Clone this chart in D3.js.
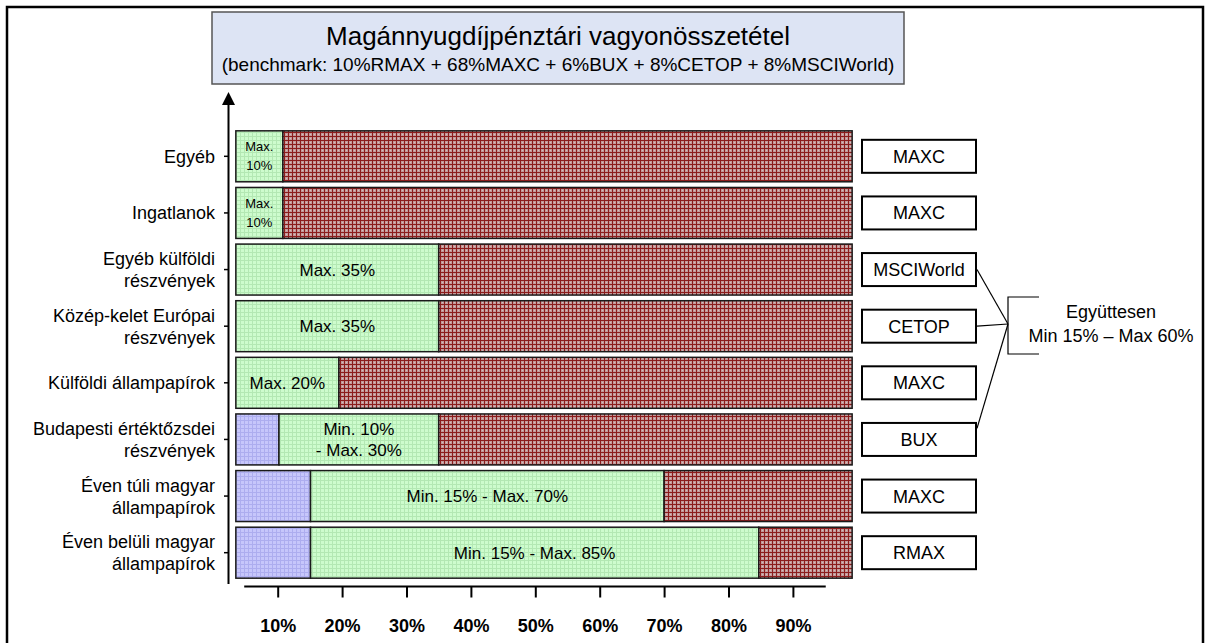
<!DOCTYPE html>
<html>
<head>
<meta charset="utf-8">
<script src="https://cdn.jsdelivr.net/npm/d3@7"></script>
<style>
  body { margin: 0; background: #fff; }
  text { font-family: "Liberation Sans", Arial, sans-serif; fill: #000; }
</style>
</head>
<body>
<div id="chart"></div>
<script>
// rows, top to bottom
var categories = [
  ["Egyéb"],
  ["Ingatlanok"],
  ["Egyéb külföldi", "részvények"],
  ["Közép-kelet Európai", "részvények"],
  ["Külföldi állampapírok"],
  ["Budapesti értéktőzsdei", "részvények"],
  ["Éven túli magyar", "állampapírok"],
  ["Éven belüli magyar", "állampapírok"]
];
// segment limits (percent)
var barStart = [3.5, 3.5, 3.5, 3.5, 3.5, 3.5, 3.5, 3.5];
var minLimit = [null, null, null, null, null, 10.2, 15.1, 15.1];
var maxLimit = [10.8, 10.8, 35, 35, 19.5, 35, 70, 84.7];
var barEnd = [99.2, 99.2, 99.2, 99.2, 99.2, 99.2, 99.2, 99.2];
var segLabels = [
  ["Max.", "10%"],
  ["Max.", "10%"],
  ["Max. 35%"],
  ["Max. 35%"],
  ["Max. 20%"],
  ["Min. 10%", "- Max. 30%"],
  ["Min. 15% - Max. 70%"],
  ["Min. 15% - Max. 85%"]
];
var benchmarks = ["MAXC", "MAXC", "MSCIWorld", "CETOP", "MAXC", "BUX", "MAXC", "RMAX"];
var jointRows = [2, 3, 5];
var jointLabel = ["Együttesen", "Min 15% \u2013 Max 60%"];
var xTicks = [10, 20, 30, 40, 50, 60, 70, 80, 90];
var title = "Magánnyugdíjpénztári vagyonösszetétel";
var subtitle = "(benchmark: 10%RMAX + 68%MAXC + 6%BUX + 8%CETOP + 8%MSCIWorld)";

var w = 1207, h = 643;

var svg = d3.select("#chart").append("svg")
  .attr("width", w)
  .attr("height", h);

var defs = svg.append("defs");

function gridPattern(id, bg, line, dot) {
  var p = defs.append("pattern")
    .attr("id", id)
    .attr("patternUnits", "userSpaceOnUse")
    .attr("width", 4).attr("height", 4);
  p.append("rect").attr("width", 4).attr("height", 4).attr("fill", bg);
  p.append("rect").attr("x", 0).attr("y", 0).attr("width", 4).attr("height", 1).attr("fill", line);
  p.append("rect").attr("x", 0).attr("y", 0).attr("width", 1).attr("height", 4).attr("fill", line);
  if (dot) p.append("rect").attr("x", 2).attr("y", 2).attr("width", 1).attr("height", 1).attr("fill", dot);
}
gridPattern("pGreen", "#cdfccd", "#b3e8b3");
gridPattern("pBlue", "#c6c6fb", "#adadef");
gridPattern("pRed", "#c29a9a", "#8c1c1c", "#dcbcbc");

// outer frame
svg.append("rect")
  .attr("x", 7).attr("y", 7)
  .attr("width", 1196).attr("height", 660)
  .attr("fill", "none")
  .attr("stroke", "#000")
  .attr("stroke-width", 2.5);

// title box
svg.append("rect")
  .attr("x", 212).attr("y", 12)
  .attr("width", 692).attr("height", 72)
  .attr("fill", "#dde4f4")
  .attr("stroke", "#555")
  .attr("stroke-width", 1.5);
svg.append("text")
  .attr("x", 558).attr("y", 45)
  .attr("text-anchor", "middle")
  .style("font-size", "26px")
  .text(title);
svg.append("text")
  .attr("x", 558).attr("y", 71)
  .attr("text-anchor", "middle")
  .style("font-size", "19px")
  .text(subtitle);

var x = d3.scaleLinear()
  .domain([0, 100])
  .range([213.3, 857.3]);

var y = d3.scaleBand()
  .domain(d3.range(categories.length))
  .range([128, 581])
  .paddingInner(0.1)
  .paddingOuter(0.05);

// segments
var segs = [];
categories.forEach(function(c, i) {
  var a = barStart[i];
  if (minLimit[i] != null) {
    segs.push({row: i, x0: a, x1: minLimit[i], fill: "url(#pBlue)"});
    a = minLimit[i];
  }
  segs.push({row: i, x0: a, x1: maxLimit[i], fill: "url(#pGreen)", label: true});
  segs.push({row: i, x0: maxLimit[i], x1: barEnd[i], fill: "url(#pRed)"});
});

svg.selectAll("rect.seg")
  .data(segs)
  .enter()
  .append("rect")
  .attr("class", "seg")
  .attr("x", function(d) { return x(d.x0); })
  .attr("y", function(d) { return y(d.row); })
  .attr("width", function(d) { return x(d.x1) - x(d.x0); })
  .attr("height", y.bandwidth())
  .attr("fill", function(d) { return d.fill; })
  .attr("stroke", "#1a1a1a")
  .attr("stroke-width", 1.5);

// labels inside the green part
segs.filter(function(d) { return d.label; }).forEach(function(d) {
  var lines = segLabels[d.row];
  var small = (x(d.x1) - x(d.x0)) < 60;
  var fs = small ? 13 : 17;
  var lh = small ? 19 : 21;
  var cx = (x(d.x0) + x(d.x1)) / 2;
  var cy = y(d.row) + y.bandwidth() / 2;
  var t = svg.append("text")
    .attr("text-anchor", "middle")
    .style("font-size", fs + "px");
  lines.forEach(function(l, k) {
    t.append("tspan")
      .attr("x", cx)
      .attr("y", cy + fs * 0.36 + (k - (lines.length - 1) / 2) * lh)
      .text(l);
  });
});

// y axis with arrow
svg.append("line")
  .attr("x1", 228.5).attr("x2", 228.5)
  .attr("y1", 104).attr("y2", 584)
  .attr("stroke", "#000").attr("stroke-width", 2);
svg.append("path")
  .attr("d", "M228.5,92 L222,105 L235,105 Z")
  .attr("fill", "#000");

var yAxis = svg.append("g")
  .attr("transform", "translate(228,0)")
  .call(d3.axisLeft(y).tickSize(4).tickPadding(9).tickFormat(""));
yAxis.select(".domain").remove();
yAxis.selectAll(".tick line").attr("stroke", "#000").attr("stroke-width", 1.5);

categories.forEach(function(lines, i) {
  var cy = y(i) + y.bandwidth() / 2;
  var t = svg.append("text")
    .attr("text-anchor", "end")
    .style("font-size", "18px");
  lines.forEach(function(l, k) {
    t.append("tspan")
      .attr("x", 215)
      .attr("y", cy + 6.5 + (k - (lines.length - 1) / 2) * 22)
      .text(l);
  });
});

// x axis
var xAxis = svg.append("g")
  .attr("transform", "translate(0,586.5)")
  .call(d3.axisBottom(x).tickValues(xTicks).tickSize(11).tickPadding(22)
    .tickFormat(function(d) { return d + "%"; }));
xAxis.select(".domain")
  .attr("d", "M" + x(4.8) + ",0H" + x(95.1))
  .attr("stroke", "#000").attr("stroke-width", 2);
xAxis.selectAll(".tick line").attr("stroke", "#000").attr("stroke-width", 2);
xAxis.selectAll(".tick text")
  .style("font-family", "'Liberation Sans', Arial, sans-serif")
  .style("font-size", "18px")
  .style("font-weight", "bold")
  .attr("fill", "#000");

// benchmark boxes
var bx0 = 862, bx1 = 976;
benchmarks.forEach(function(b, i) {
  var cy = y(i) + y.bandwidth() / 2;
  svg.append("rect")
    .attr("x", bx0).attr("y", cy - 16.5)
    .attr("width", bx1 - bx0).attr("height", 33)
    .attr("fill", "#fff")
    .attr("stroke", "#000")
    .attr("stroke-width", 2);
  svg.append("text")
    .attr("x", (bx0 + bx1) / 2).attr("y", cy + 6.5)
    .attr("text-anchor", "middle")
    .style("font-size", "18px")
    .text(b);
});

// joint limit bracket
var jx = 1008, jy0 = 297, jy1 = 354, jm = 324;
jointRows.forEach(function(i, k) {
  var cy = y(i) + y.bandwidth() / 2 + (k === 2 ? -11 : 0);
  svg.append("line")
    .attr("x1", bx1 + 1).attr("y1", cy)
    .attr("x2", jx).attr("y2", jm)
    .attr("stroke", "#000").attr("stroke-width", 1.2);
});
svg.append("path")
  .attr("d", "M1039," + jy0 + "H" + jx + "V" + jy1 + "H1039")
  .attr("fill", "none")
  .attr("stroke", "#000").attr("stroke-width", 1.2);
jointLabel.forEach(function(l, k) {
  svg.append("text")
    .attr("x", 1111).attr("y", 318 + k * 24)
    .attr("text-anchor", "middle")
    .style("font-size", "18px")
    .text(l);
});
</script>
</body>
</html>
